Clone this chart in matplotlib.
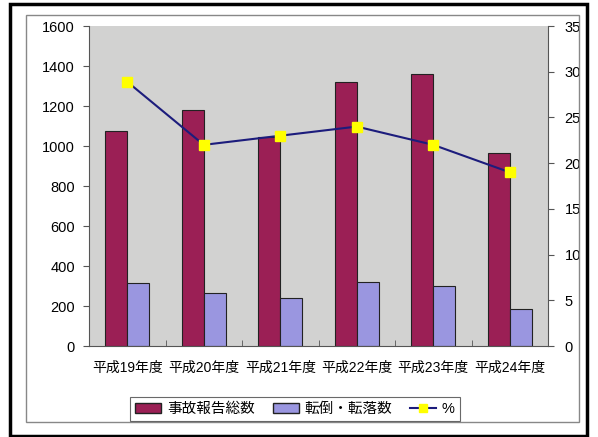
import matplotlib
matplotlib.use("Agg")
import matplotlib.pyplot as plt
from matplotlib.patches import Rectangle
from matplotlib.lines import Line2D
import numpy as np

plt.rcParams['font.family'] = ['Liberation Sans', 'Noto Sans CJK JP', 'DejaVu Sans']

categories = ["平成19年度", "平成20年度", "平成21年度", "平成22年度", "平成23年度", "平成24年度"]
total_reports = [1075, 1180, 1045, 1320, 1360, 965]
falls = [313, 263, 242, 320, 300, 185]
percent = [28.9, 22.0, 23.0, 24.0, 22.0, 19.0]

W, H = 598, 437
fig = plt.figure(figsize=(W/100, H/100), dpi=100)

# outer black frame and inner chart frame
fig.patches.append(Rectangle((10/W, 1/H), 577/W, 432/H, transform=fig.transFigure,
                             fill=False, edgecolor='black', linewidth=2.5))
fig.patches.append(Rectangle((26/W, (H-422)/H), 553/W, 407/H, transform=fig.transFigure,
                             fill=False, edgecolor='#888888', linewidth=1.0))

ax = fig.add_axes([89/W, (H-346)/H, 459/W, 320/H])
ax.set_facecolor('#d2d2d1')
x = np.arange(len(categories))
bw = 0.29
ax.bar(x - bw/2, total_reports, bw, color='#9b1f55', edgecolor='#222222', linewidth=0.8, zorder=2)
ax.bar(x + bw/2, falls, bw, color='#9a96e0', edgecolor='#222222', linewidth=0.8, zorder=2)
ax.set_xlim(-0.5, len(categories) - 0.5)
ax.set_ylim(0, 1600)
ax.set_yticks(range(0, 1601, 200))
ax.set_xticks(x)
ax.set_xticklabels(categories, fontsize=10)
ax.set_xticks(np.arange(-0.5, len(categories), 1.0), minor=True)
ax.tick_params(axis='x', which='major', length=0, pad=11)
ax.tick_params(axis='x', which='minor', length=4, direction='in', color='#555555')
ax.tick_params(axis='y', labelsize=10.5, length=4, color='#555555', pad=6)
for s in ['top', 'right']:
    ax.spines[s].set_visible(False)
ax.spines['left'].set_color('#555555')
ax.spines['bottom'].set_color('#555555')

ax2 = ax.twinx()
ax2.plot(x, percent, color='#1c1c7c', linewidth=1.5, marker='s', markersize=6.5,
         markerfacecolor='#ffff00', markeredgecolor='#ffff00', zorder=3)
ax2.set_ylim(0, 35)
ax2.set_yticks(range(0, 36, 5))
ax2.tick_params(axis='y', labelsize=10.5, length=4, color='#555555', pad=8)
for s in ['top', 'left', 'bottom']:
    ax2.spines[s].set_visible(False)
ax2.spines['right'].set_color('#555555')

handles = [Rectangle((0, 0), 1, 1, facecolor='#9b1f55', edgecolor='#222222'),
           Rectangle((0, 0), 1, 1, facecolor='#9a96e0', edgecolor='#222222'),
           Line2D([0], [0], color='#1c1c7c', marker='s', markerfacecolor='#ffff00',
                  markeredgecolor='#ffff00', markersize=6)]
leg = fig.legend(handles, ["事故報告総数", "転倒・転落数", "%"], ncol=3,
                 loc='center', bbox_to_anchor=(295/W, (H-409)/H), fontsize=10.5,
                 frameon=True, fancybox=False, edgecolor='#444444',
                 handlelength=1.8, handletextpad=0.4, columnspacing=1.2, borderpad=0.35)
leg.get_frame().set_linewidth(0.8)

fig.savefig('out.png', dpi=100)
